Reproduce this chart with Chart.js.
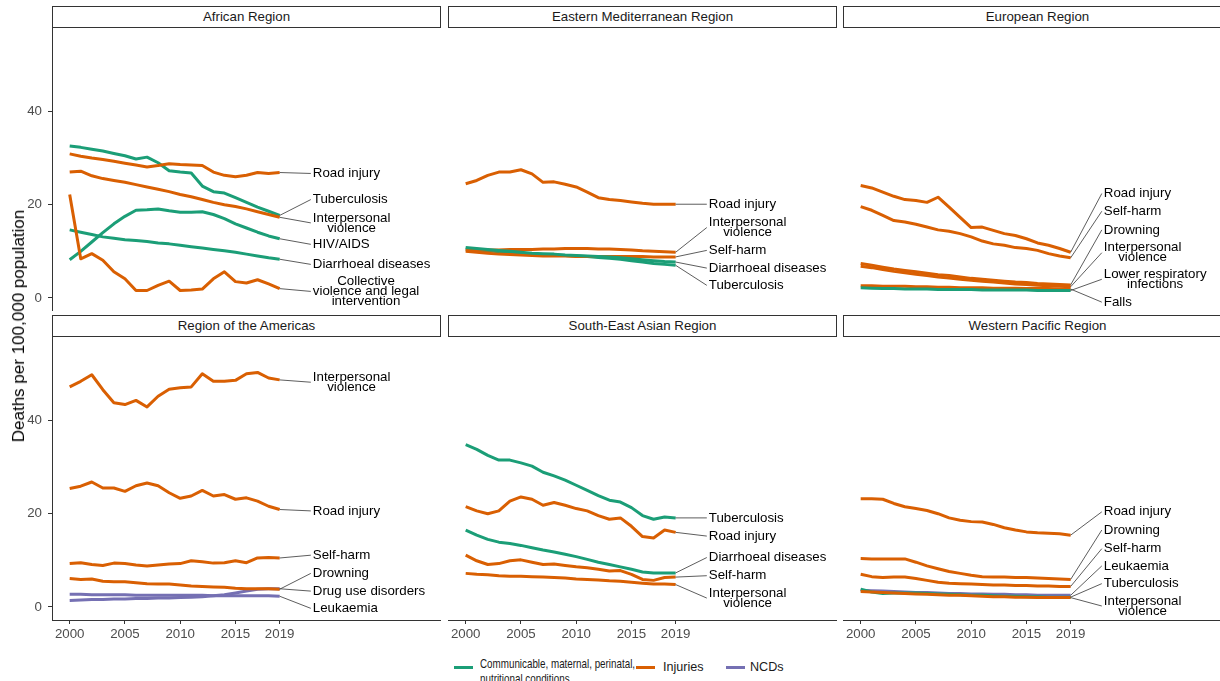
<!DOCTYPE html>
<html>
<head>
<meta charset="utf-8">
<title>Leading causes of death by WHO region, 2000–2019</title>
<script src="https://cdn.jsdelivr.net/npm/chart.js@4/dist/chart.umd.min.js"></script>
<style>
  html, body { margin: 0; padding: 0; background: #fff; overflow: hidden; }
  body { width: 1220px; height: 681px; position: relative; font-family: 'Liberation Sans', Arial, sans-serif; }
  canvas { position: absolute; }
  .strip { position: absolute; box-sizing: border-box; border: 1px solid #333; background: #fff;
           font-size: 13.3px; color: #1a1a1a; text-align: center; line-height: 20px; }
  .ytitle { position: absolute; font-size: 17px; color: #000; white-space: nowrap;
            transform: translate(-50%, -50%) rotate(-90deg); }
  .key { position: absolute; height: 3px; width: 19px; }
  .ltext { position: absolute; font-size: 12.6px; color: #1a1a1a; line-height: 15px; white-space: nowrap;
           transform-origin: 0 50%; }
</style>
</head>
<body>
<script>
// ---- data ----------------------------------------------------------------
const years = [2000, 2001, 2002, 2003, 2004, 2005, 2006, 2007, 2008, 2009,
               2010, 2011, 2012, 2013, 2014, 2015, 2016, 2017, 2018, 2019];
const yTickValues = [0, 20, 40];
const xTickValues = [2000, 2005, 2010, 2015, 2019];
const regionNames = ['African Region', 'Eastern Mediterranean Region', 'European Region',
                     'Region of the Americas', 'South-East Asian Region', 'Western Pacific Region'];
const groupNames = ['Communicable, maternal, perinatal,\nnutritional conditions', 'Injuries', 'NCDs'];

// African Region
const afrRoadInjury    = [30.9, 30.4, 30.0, 29.7, 29.3, 28.9, 28.5, 28.1, 28.4, 28.8, 28.6, 28.5, 28.4, 27.0, 26.3, 26.0, 26.3, 26.9, 26.7, 26.9];
const afrTuberculosis  = [32.6, 32.3, 31.9, 31.5, 31.0, 30.5, 29.8, 30.2, 29.0, 27.3, 27.0, 26.8, 24.0, 22.8, 22.5, 21.5, 20.5, 19.5, 18.6, 17.7];
const afrInterpersonal = [27.0, 27.2, 26.2, 25.6, 25.2, 24.8, 24.3, 23.8, 23.3, 22.8, 22.2, 21.7, 21.1, 20.5, 20.0, 19.6, 19.1, 18.5, 17.9, 17.3];
const afrHivAids       = [8.2, 10.0, 12.0, 14.0, 15.9, 17.5, 18.8, 18.9, 19.1, 18.7, 18.4, 18.4, 18.5, 17.9, 17.0, 15.9, 15.0, 14.1, 13.3, 12.7];
const afrDiarrhoeal    = [14.6, 14.1, 13.6, 13.1, 12.8, 12.5, 12.3, 12.1, 11.8, 11.6, 11.3, 11.0, 10.7, 10.4, 10.1, 9.8, 9.4, 9.0, 8.6, 8.3];
const afrCollective    = [22.2, 8.4, 9.5, 8.1, 5.6, 4.1, 1.6, 1.6, 2.7, 3.6, 1.6, 1.7, 1.9, 4.1, 5.6, 3.5, 3.2, 3.9, 3.0, 2.0];

// Eastern Mediterranean Region
const emrRoadInjury    = [24.5, 25.2, 26.3, 27.0, 27.0, 27.5, 26.6, 24.8, 24.9, 24.4, 23.8, 22.7, 21.5, 21.1, 20.9, 20.6, 20.3, 20.1, 20.1, 20.1];
const emrInterpersonal = [10.3, 10.3, 10.3, 10.3, 10.4, 10.4, 10.4, 10.5, 10.5, 10.6, 10.6, 10.6, 10.5, 10.5, 10.4, 10.3, 10.1, 10.0, 9.9, 9.8];
const emrSelfHarm      = [10.0, 9.8, 9.6, 9.4, 9.3, 9.2, 9.1, 9.0, 9.0, 9.0, 8.9, 8.9, 8.9, 8.9, 8.9, 8.9, 8.9, 8.8, 8.8, 8.8];
const emrDiarrhoeal    = [10.8, 10.6, 10.4, 10.2, 10.0, 9.8, 9.6, 9.5, 9.4, 9.2, 9.1, 9.0, 8.9, 8.8, 8.6, 8.4, 8.2, 8.0, 7.8, 7.7];
const emrTuberculosis  = [10.5, 10.3, 10.1, 9.9, 9.7, 9.5, 9.4, 9.3, 9.2, 9.1, 9.0, 8.9, 8.7, 8.5, 8.3, 8.0, 7.7, 7.4, 7.2, 7.0];

// European Region
const eurRoadInjury    = [24.1, 23.6, 22.7, 21.8, 21.1, 20.9, 20.5, 21.6, 19.5, 17.3, 15.1, 15.2, 14.5, 13.8, 13.4, 12.7, 11.8, 11.3, 10.6, 9.8];
const eurSelfHarm      = [19.6, 18.8, 17.7, 16.6, 16.3, 15.8, 15.2, 14.6, 14.3, 13.8, 13.1, 12.2, 11.6, 11.3, 10.8, 10.6, 10.2, 9.5, 9.0, 8.6];
const eurDrowning      = [7.4, 7.0, 6.6, 6.2, 5.9, 5.6, 5.3, 5.0, 4.8, 4.5, 4.2, 4.0, 3.8, 3.6, 3.4, 3.3, 3.1, 3.0, 2.9, 2.8];
const eurInterpersonal = [6.8, 6.5, 6.1, 5.7, 5.4, 5.1, 4.8, 4.5, 4.3, 4.0, 3.8, 3.6, 3.4, 3.2, 3.0, 2.9, 2.7, 2.6, 2.5, 2.4];
const eurLowerResp     = [2.2, 2.1, 2.0, 2.0, 1.9, 1.9, 1.9, 1.8, 1.8, 1.8, 1.8, 1.7, 1.7, 1.7, 1.7, 1.7, 1.6, 1.6, 1.6, 1.6];
const eurFalls         = [2.6, 2.6, 2.5, 2.5, 2.5, 2.4, 2.4, 2.3, 2.3, 2.2, 2.2, 2.2, 2.1, 2.1, 2.1, 2.0, 2.0, 2.0, 1.9, 1.9];

// Region of the Americas
const amrInterpersonal = [47.2, 48.4, 49.8, 46.6, 43.8, 43.4, 44.3, 42.9, 45.2, 46.7, 47.0, 47.2, 50.0, 48.4, 48.4, 48.6, 50.0, 50.3, 49.1, 48.7];
const amrRoadInjury    = [25.4, 25.9, 26.8, 25.5, 25.5, 24.8, 26.0, 26.6, 26.0, 24.5, 23.3, 23.8, 25.0, 23.8, 24.1, 23.1, 23.4, 22.7, 21.6, 20.9];
const amrSelfHarm      = [9.3, 9.5, 9.1, 8.9, 9.4, 9.3, 9.0, 8.8, 9.0, 9.2, 9.3, 9.9, 9.7, 9.4, 9.5, 9.9, 9.5, 10.5, 10.6, 10.5];
const amrDrowning      = [6.1, 5.9, 6.0, 5.5, 5.4, 5.4, 5.2, 5.0, 4.9, 4.9, 4.7, 4.5, 4.4, 4.3, 4.2, 4.0, 3.9, 3.9, 3.9, 3.8];
const amrDrugUse       = [1.4, 1.5, 1.6, 1.6, 1.7, 1.7, 1.8, 1.8, 1.9, 1.9, 2.0, 2.1, 2.2, 2.4, 2.6, 3.0, 3.4, 3.8, 3.9, 3.9];
const amrLeukaemia     = [2.7, 2.7, 2.6, 2.6, 2.6, 2.6, 2.5, 2.5, 2.5, 2.5, 2.5, 2.5, 2.5, 2.4, 2.4, 2.4, 2.4, 2.4, 2.4, 2.3];

// South-East Asian Region
const searTuberculosis  = [34.8, 33.8, 32.5, 31.5, 31.5, 30.9, 30.2, 28.9, 28.1, 27.2, 26.1, 25.0, 23.9, 22.9, 22.5, 21.3, 19.6, 18.8, 19.3, 19.1];
const searRoadInjury    = [21.5, 20.6, 20.0, 20.6, 22.7, 23.6, 23.1, 21.8, 22.4, 21.8, 21.1, 20.6, 19.6, 18.8, 19.1, 17.3, 15.1, 14.8, 16.5, 16.0];
const searDiarrhoeal    = [16.5, 15.4, 14.5, 13.9, 13.6, 13.2, 12.7, 12.2, 11.8, 11.3, 10.8, 10.2, 9.6, 9.1, 8.6, 8.1, 7.5, 7.3, 7.3, 7.3];
const searSelfHarm      = [11.1, 9.9, 9.1, 9.3, 9.9, 10.1, 9.6, 9.1, 9.2, 8.9, 8.6, 8.4, 8.1, 7.7, 7.8, 7.0, 5.9, 5.7, 6.3, 6.4];
const searInterpersonal = [7.2, 7.0, 6.9, 6.7, 6.6, 6.6, 6.5, 6.4, 6.3, 6.2, 6.0, 5.9, 5.8, 5.6, 5.5, 5.3, 5.1, 4.9, 4.9, 4.8];

// Western Pacific Region
const wprRoadInjury    = [23.2, 23.2, 23.1, 22.2, 21.5, 21.1, 20.7, 20.0, 19.1, 18.6, 18.3, 18.2, 17.7, 17.0, 16.5, 16.1, 15.9, 15.8, 15.7, 15.4];
const wprDrowning      = [10.4, 10.3, 10.3, 10.3, 10.3, 9.6, 8.8, 8.2, 7.6, 7.2, 6.8, 6.5, 6.4, 6.4, 6.3, 6.3, 6.2, 6.1, 6.0, 5.9];
const wprSelfHarm      = [7.0, 6.5, 6.3, 6.4, 6.4, 6.1, 5.7, 5.3, 5.1, 5.0, 4.9, 4.8, 4.7, 4.7, 4.6, 4.6, 4.5, 4.5, 4.4, 4.4];
const wprLeukaemia     = [3.6, 3.5, 3.4, 3.3, 3.2, 3.1, 3.1, 3.0, 2.9, 2.9, 2.8, 2.8, 2.7, 2.7, 2.6, 2.6, 2.5, 2.5, 2.5, 2.5];
const wprTuberculosis  = [3.8, 3.2, 2.9, 3.0, 3.0, 3.0, 2.9, 2.8, 2.7, 2.6, 2.5, 2.5, 2.4, 2.3, 2.3, 2.2, 2.2, 2.1, 2.1, 2.1];
const wprInterpersonal = [3.3, 3.2, 3.1, 3.0, 2.9, 2.8, 2.7, 2.6, 2.5, 2.5, 2.4, 2.3, 2.2, 2.2, 2.1, 2.1, 2.0, 2.0, 2.0, 2.0];

// ---- panels: series (group 0 = communicable, 1 = injuries, 2 = NCDs) ------
// labelY is where each cause's name sits, in deaths per 100,000
const panels = [
  { series: [
      { cause: 'Collective\nviolence and legal\nintervention', group: 1, values: afrCollective, labelY: 1.4 },
      { cause: 'Diarrhoeal diseases', group: 0, values: afrDiarrhoeal, labelY: 7.2 },
      { cause: 'HIV/AIDS', group: 0, values: afrHivAids, labelY: 11.5 },
      { cause: 'Interpersonal\nviolence', group: 1, values: afrInterpersonal, labelY: 16.1 },
      { cause: 'Road injury', group: 1, values: afrRoadInjury, labelY: 26.7 },
      { cause: 'Tuberculosis', group: 0, values: afrTuberculosis, labelY: 21.1 } ] },
  { series: [
      { cause: 'Diarrhoeal diseases', group: 0, values: emrDiarrhoeal, labelY: 6.4 },
      { cause: 'Interpersonal\nviolence', group: 1, values: emrInterpersonal, labelY: 15.1 },
      { cause: 'Road injury', group: 1, values: emrRoadInjury, labelY: 20.1 },
      { cause: 'Self-harm', group: 1, values: emrSelfHarm, labelY: 10.2 },
      { cause: 'Tuberculosis', group: 0, values: emrTuberculosis, labelY: 2.7 } ] },
  { series: [
      { cause: 'Lower respiratory\ninfections', group: 0, values: eurLowerResp, labelY: 4.0 },
      { cause: 'Falls', group: 1, values: eurFalls, labelY: -0.9 },
      { cause: 'Interpersonal\nviolence', group: 1, values: eurInterpersonal, labelY: 9.7 },
      { cause: 'Drowning', group: 1, values: eurDrowning, labelY: 14.6 },
      { cause: 'Road injury', group: 1, values: eurRoadInjury, labelY: 22.4 },
      { cause: 'Self-harm', group: 1, values: eurSelfHarm, labelY: 18.6 } ] },
  { series: [
      { cause: 'Drowning', group: 1, values: amrDrowning, labelY: 7.2 },
      { cause: 'Drug use disorders', group: 2, values: amrDrugUse, labelY: 3.4 },
      { cause: 'Interpersonal\nviolence', group: 1, values: amrInterpersonal, labelY: 48.2 },
      { cause: 'Leukaemia', group: 2, values: amrLeukaemia, labelY: -0.3 },
      { cause: 'Road injury', group: 1, values: amrRoadInjury, labelY: 20.6 },
      { cause: 'Self-harm', group: 1, values: amrSelfHarm, labelY: 11.1 } ] },
  { series: [
      { cause: 'Diarrhoeal diseases', group: 0, values: searDiarrhoeal, labelY: 10.6 },
      { cause: 'Interpersonal\nviolence', group: 1, values: searInterpersonal, labelY: 1.9 },
      { cause: 'Road injury', group: 1, values: searRoadInjury, labelY: 15.2 },
      { cause: 'Self-harm', group: 1, values: searSelfHarm, labelY: 6.7 },
      { cause: 'Tuberculosis', group: 0, values: searTuberculosis, labelY: 19.1 } ] },
  { series: [
      { cause: 'Interpersonal\nviolence', group: 1, values: wprInterpersonal, labelY: 0.2 },
      { cause: 'Tuberculosis', group: 0, values: wprTuberculosis, labelY: 5.0 },
      { cause: 'Leukaemia', group: 2, values: wprLeukaemia, labelY: 8.8 },
      { cause: 'Drowning', group: 1, values: wprDrowning, labelY: 16.5 },
      { cause: 'Road injury', group: 1, values: wprRoadInjury, labelY: 20.4 },
      { cause: 'Self-harm', group: 1, values: wprSelfHarm, labelY: 12.5 } ] }
];

// ---- layout and style ------------------------------------------------------
const FONT = "'Liberation Sans', Arial, sans-serif";
const groupColors = ['#1b9e77', '#d95f02', '#7570b3'];
const AXIS_COLOR = '#333333';
const TICK_TEXT = '#4d4d4d';
const COL_LEFT = [52, 448, 843];
const ROW_TOP = [28, 337];
const PLOT_W = 389, PLOT_H = 283, STRIP_H = 22;
const Y_AXIS_W = 52, X_AXIS_H = 30;
const X_MIN = 1998.4, X_MAX = 2033.6, Y_MIN = -2.8, Y_MAX = 57.9;
const LABEL_YEAR = 2022;
const LABEL_SIZE = 13.3, LABEL_LINE = 10;

// Cause names at the right of each panel, tied to the 2019 value by a leader line
const causeLabels = {
  id: 'causeLabels',
  afterDatasetsDraw(chart, args, opts) {
    const { ctx } = chart;
    const xs = chart.scales.x, ys = chart.scales.y;
    ctx.save();
    ctx.font = `${LABEL_SIZE}px ${FONT}`;
    opts.items.forEach(item => {
      const lines = item.cause.split('\n');
      const w = Math.max(...lines.map(l => ctx.measureText(l).width));
      const h = lines.length * LABEL_LINE;
      const left = xs.getPixelForValue(LABEL_YEAR);
      const cy = ys.getPixelForValue(item.labelY);
      const cx = left + w / 2;
      const px = xs.getPixelForValue(years[years.length - 1]);
      const py = ys.getPixelForValue(item.values[item.values.length - 1]);
      ctx.strokeStyle = AXIS_COLOR;
      ctx.lineWidth = 0.8;
      ctx.beginPath();
      ctx.moveTo(px, py);
      ctx.lineTo(left - 2, cy);
      ctx.stroke();
      ctx.fillStyle = '#000';
      ctx.textAlign = 'center';
      ctx.textBaseline = 'middle';
      lines.forEach((l, i) => ctx.fillText(l, cx, cy - h / 2 + LABEL_LINE * (i + 0.5)));
    });
    ctx.restore();
  }
};

function axisStyle() {
  return {
    border: { display: true, color: AXIS_COLOR, width: 1 },
    grid: { display: true, drawOnChartArea: false, drawTicks: true, tickLength: 4, color: AXIS_COLOR },
  };
}

function buildPanel(idx) {
  const col = idx % 3, row = Math.floor(idx / 3);
  const showY = col === 0, showX = row === 1;
  const panel = panels[idx];

  const strip = document.createElement('div');
  strip.className = 'strip';
  strip.style.left = COL_LEFT[col] + 'px';
  strip.style.top = (ROW_TOP[row] - STRIP_H) + 'px';
  strip.style.width = PLOT_W + 'px';
  strip.style.height = STRIP_H + 'px';
  strip.textContent = regionNames[idx];
  document.body.appendChild(strip);

  const canvas = document.createElement('canvas');
  const cw = PLOT_W + (showY ? Y_AXIS_W : 0);
  const ch = PLOT_H + (showX ? X_AXIS_H : 0);
  canvas.width = cw; canvas.height = ch;
  canvas.style.width = cw + 'px'; canvas.style.height = ch + 'px';
  canvas.style.left = (COL_LEFT[col] - (showY ? Y_AXIS_W : 0)) + 'px';
  canvas.style.top = ROW_TOP[row] + 'px';
  document.body.appendChild(canvas);

  const xScale = Object.assign({
    type: 'linear', min: X_MIN, max: X_MAX, display: showX,
    afterBuildTicks: s => { s.ticks = xTickValues.map(v => ({ value: v })); },
    ticks: { color: TICK_TEXT, font: { size: 13.3, family: FONT }, padding: 2, maxRotation: 0,
             callback: v => String(v) }
  }, axisStyle());
  if (showX) xScale.afterFit = s => { s.height = X_AXIS_H; s.paddingLeft = 0; s.paddingRight = 0; };

  const yScale = Object.assign({
    type: 'linear', min: Y_MIN, max: Y_MAX, display: showY,
    afterBuildTicks: s => { s.ticks = yTickValues.map(v => ({ value: v })); },
    ticks: { color: TICK_TEXT, font: { size: 13.3, family: FONT }, padding: 6,
             callback: v => String(v) }
  }, axisStyle());
  if (showY) yScale.afterFit = s => { s.width = Y_AXIS_W; s.paddingTop = 0; s.paddingBottom = 0; };

  new Chart(canvas, {
    type: 'line',
    data: {
      datasets: panel.series.map(s => ({
        label: s.cause.replace(/\n/g, ' '),
        data: years.map((yr, i) => ({ x: yr, y: s.values[i] })),
        borderColor: groupColors[s.group],
        borderWidth: 3,
        pointRadius: 0,
        tension: 0,
        fill: false,
        borderJoinStyle: 'round',
        borderCapStyle: 'butt'
      }))
    },
    options: {
      responsive: false,
      animation: false,
      events: [],
      layout: { padding: 0 },
      plugins: {
        legend: { display: false },
        tooltip: { enabled: false },
        causeLabels: { items: panel.series }
      },
      scales: { x: xScale, y: yScale }
    },
    plugins: [causeLabels]
  });
}

for (let i = 0; i < panels.length; i++) buildPanel(i);

// y-axis title shared by all panels
const yTitle = document.createElement('div');
yTitle.className = 'ytitle';
yTitle.style.left = '19px';
yTitle.style.top = '326px';
yTitle.textContent = 'Deaths per 100,000 population';
document.body.appendChild(yTitle);

// legend
const legendPlaces = [
  { key: 454, text: 480, keyY: 667, textY: 672, squeeze: 0.78 },
  { key: 636, text: 663, keyY: 667, textY: 667, squeeze: 1 },
  { key: 726, text: 750, keyY: 667, textY: 667, squeeze: 1 }
];
groupNames.forEach((name, g) => {
  const p = legendPlaces[g];
  const key = document.createElement('div');
  key.className = 'key';
  key.style.background = groupColors[g];
  key.style.left = p.key + 'px';
  key.style.top = (p.keyY - 1.5) + 'px';
  document.body.appendChild(key);
  const lines = name.split('\n');
  const txt = document.createElement('div');
  txt.className = 'ltext';
  txt.style.left = p.text + 'px';
  txt.style.top = (p.textY - lines.length * 7.5) + 'px';
  txt.style.transform = `scaleX(${p.squeeze})`;
  txt.innerHTML = lines.join('<br>');
  document.body.appendChild(txt);
});
</script>
</body>
</html>
